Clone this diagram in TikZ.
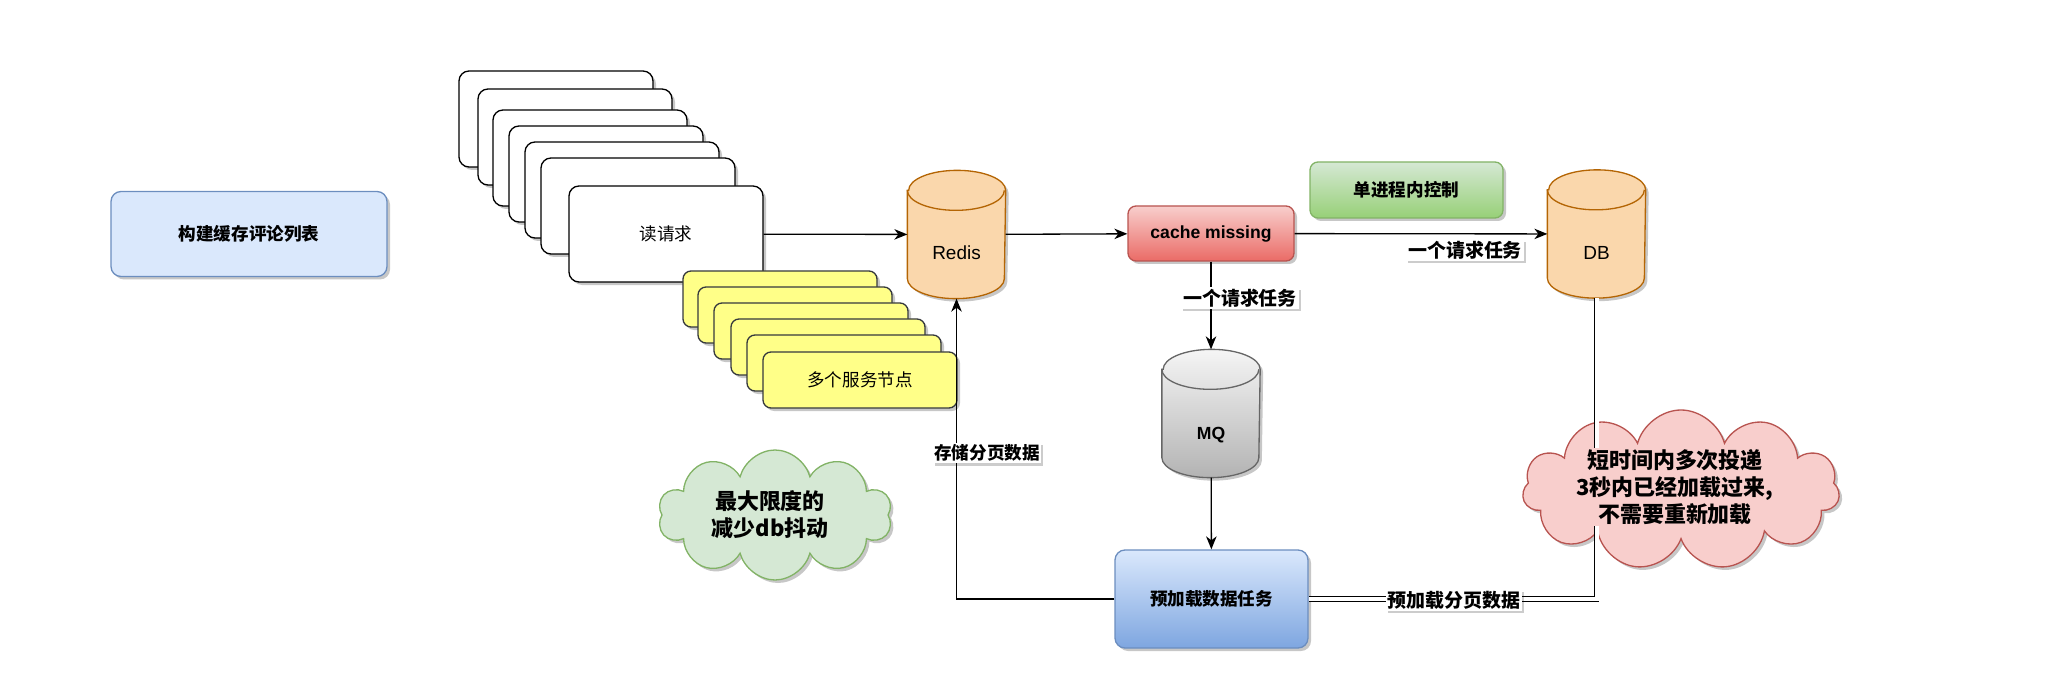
\documentclass[tikz,border=0pt]{standalone}
\usepackage{fontspec}
\setmainfont{Liberation Sans}
\newfontfamily\cjk{Noto Sans CJK SC}
\usetikzlibrary{arrows.meta,shapes.symbols,shadows}

\definecolor{blueFill}{HTML}{DAE8FC}
\definecolor{blueDeep}{HTML}{7EA6E0}
\definecolor{blueStroke}{HTML}{6C8EBF}
\definecolor{noteFill}{HTML}{FFFF88}
\definecolor{noteStroke}{HTML}{36393D}
\definecolor{cylFill}{HTML}{FAD7AC}
\definecolor{cylStroke}{HTML}{B46504}
\definecolor{redFill}{HTML}{F8CECC}
\definecolor{redDeep}{HTML}{EA6B66}
\definecolor{redStroke}{HTML}{B85450}
\definecolor{greenFill}{HTML}{D5E8D4}
\definecolor{greenDeep}{HTML}{97D077}
\definecolor{greenStroke}{HTML}{82B366}
\definecolor{greyFill}{HTML}{F5F5F5}
\definecolor{greyDeep}{HTML}{B3B3B3}
\definecolor{greyStroke}{HTML}{666666}

\tikzset{
  shadowed/.style={drop shadow={shadow xshift=0.6mm, shadow yshift=-0.6mm, opacity=0.22, fill=black}},
  reqbox/.style={draw=black, fill=white, rounded corners=2mm, shadowed},
  notebox/.style={draw=noteStroke, fill=noteFill, rounded corners=1.6mm, shadowed},
  cylbox/.style={shape=rectangle, draw=none, minimum width=19.4mm, minimum height=25.4mm, inner sep=0pt},
  edgelbl/.style={shape=rectangle, fill=white, inner sep=1pt, font=\cjk\bfseries\fontsize{10.8}{13}\selectfont,
    drop shadow={shadow xshift=0.4mm, shadow yshift=-0.5mm, opacity=0.2, fill=black}},
  cloudtxt/.style={shape=rectangle, align=center, inner sep=0pt, font=\cjk\bfseries\fontsize{12.5}{15.4}\selectfont},
  dbl/.style={double=white, double distance=0.8mm, line width=0.5pt},
  >={Stealth[length=2.6mm, width=2.1mm, inset=0.8mm]}
}

% cylinder drawn round an empty node: #1 node, #2 body style, #3 stroke
\newcommand{\drawcyl}[3]{%
  \draw[draw=#3, #2, shadowed] ([yshift=-4mm]#1.north west) -- ([yshift=4mm]#1.south west)
    arc[start angle=180, end angle=360, x radius=9.7mm, y radius=4mm]
    -- ([yshift=-4mm]#1.north east)
    arc[start angle=0, end angle=180, x radius=9.7mm, y radius=4mm] -- cycle;
  \draw[draw=#3] ([yshift=-4mm]#1.north west)
    arc[start angle=180, end angle=360, x radius=9.7mm, y radius=4mm];
}

\begin{document}
\begin{tikzpicture}[x=0.2mm, y=-0.2mm, line width=0.75pt, font=\fontsize{10.8}{13}\selectfont]
%%%%%%%%%%%%%%%%%%%%%%%%%%%%%%%%%%%%%%%%%%% HELP LINES
%\draw[help lines] (0,0) grid +(2054,694);
\useasboundingbox (0,0) rectangle (2054,694);

%%%%%%%%%%%%%%%%%%%%%%%%%%%%%%%%%%%%%%%%%%% title
\node[shape=rectangle, draw=blueStroke, fill=blueFill, rounded corners=2mm, shadowed, minimum width=55.2mm, minimum height=17mm, font=\cjk\bfseries](title) at (249,234){构建缓存评论列表};

%%%%%%%%%%%%%%%%%%%%%%%%%%%%%%%%%%%%%%%%%%% read requests
\foreach \x/\y in {459/71, 478/89, 493/110, 509/126, 525/142, 541/158}
  \draw[reqbox] (\x,\y) rectangle +(194,96);
\node[reqbox, minimum width=38.8mm, minimum height=19.2mm, font=\cjk](readReq) at (666,234){读请求};

%%%%% service nodes
\foreach \x/\y in {683/271, 698/287, 714/303, 731/319, 747/335}
  \draw[notebox] (\x,\y) rectangle +(194,56);
\node[notebox, minimum width=38.8mm, minimum height=11.2mm, font=\cjk](nodes) at (860,380){多个服务节点};

%%%%%%%%%%%%%%%%%%%%%%%%%%%%%%%%%%%%%%%%%%% stores
\node[cylbox](Redis) at (956.5,234.5){};
\drawcyl{Redis}{fill=cylFill}{cylStroke}
\node[shape=rectangle, draw=none](redisTxt) at (956.5,253){Redis};

\node[cylbox](DB) at (1596.5,234){};
\drawcyl{DB}{fill=cylFill}{cylStroke}
\node[shape=rectangle, draw=none](dbTxt) at (1596.5,253){DB};

\node[cylbox](MQ) at (1211,413.5){};
\drawcyl{MQ}{top color=greyFill, bottom color=greyDeep}{greyStroke}
\node[shape=rectangle, draw=none, font=\bfseries](mqTxt) at (1211,435){MQ};

%%%%%%%%%%%%%%%%%%%%%%%%%%%%%%%%%%%%%%%%%%% tasks
\node[shape=rectangle, draw=redStroke, top color=redFill, bottom color=redDeep, rounded corners=1.6mm, shadowed, minimum width=33.2mm, minimum height=11mm, font=\bfseries](cacheMiss) at (1211,233.5){cache missing};
\node[shape=rectangle, draw=greenStroke, top color=greenFill, bottom color=greenDeep, rounded corners=1.6mm, shadowed, minimum width=38.6mm, minimum height=11.2mm, font=\cjk\bfseries](single) at (1406.5,190){单进程内控制};
\node[shape=rectangle, draw=blueStroke, top color=blueFill, bottom color=blueDeep, rounded corners=2mm, shadowed, minimum width=38.6mm, minimum height=19.6mm, font=\cjk\bfseries](preload) at (1211.5,599){预加载数据任务};

%%%%% clouds
\node[cloud, cloud puffs=10, aspect=1.8, draw=greenStroke, fill=greenFill, shadowed, minimum width=46.8mm, minimum height=26mm](calmCloud) at (775,515){};
\node[cloudtxt](calmTxt) at (770,515){最大限度的\\减少db抖动};
\node[cloud, cloud puffs=11, aspect=2, draw=redStroke, fill=redFill, shadowed, minimum width=63.4mm, minimum height=32mm](onceCloud) at (1681,490){};

%%%%%%%%%%%%%%%%%%%%%%%%%%%%%%%%%%%%%%%%%%% connectors
\draw[->] (readReq) -- (Redis);
\draw[->] (Redis) -- (cacheMiss);
\draw[->] (cacheMiss) -- (DB);
\draw[->] (cacheMiss) -- (MQ);
\draw[->] (MQ) -- (preload);
\draw[->] (preload.west) -| (Redis.south);
\draw[dbl] (DB.south) |- (preload.east);

%%%%% labels
\node[edgelbl](lblDB) at (1465,250){一个请求任务};
\node[edgelbl](lblMQ) at (1240,298){一个请求任务};
\node[edgelbl, font=\cjk\bfseries\fontsize{10}{12}\selectfont](lblStore) at (987,453){存储分页数据};
\node[edgelbl](lblLoad) at (1454,600){预加载分页数据};
\node[cloudtxt, fill=redFill, inner sep=1pt](onceTxt) at (1675,487){短时间内多次投递\\3秒内已经加载过来,\\不需要重新加载};
\end{tikzpicture}
\end{document}
